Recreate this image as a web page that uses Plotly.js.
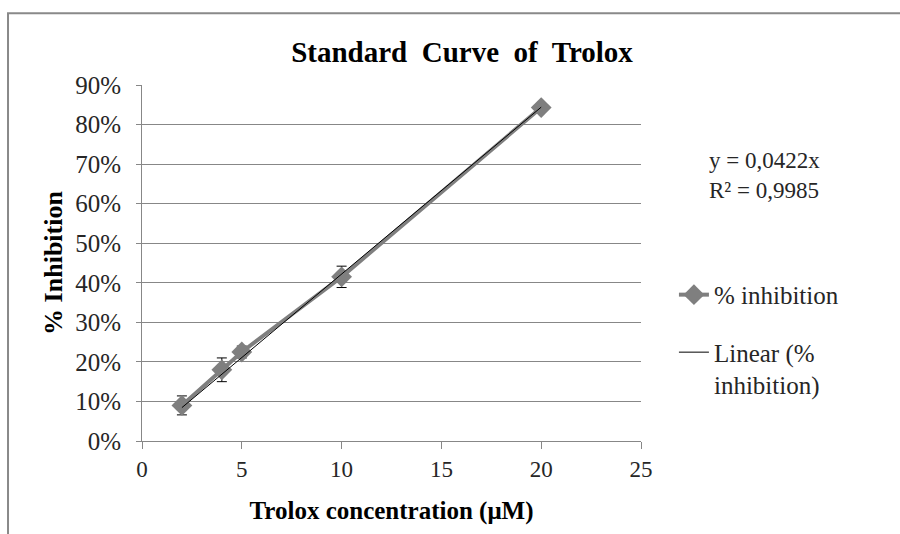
<!DOCTYPE html>
<html>
<head>
<meta charset="utf-8">
<script src="https://cdn.plot.ly/plotly-3.0.1.min.js"></script>
<style>html,body{margin:0;padding:0;background:#fff;}#chart{width:900px;height:534px;}</style>
</head>
<body>
<div id="chart"></div>
<script>
// Data
var concentration = [2, 4, 5, 10, 20];            // Trolox concentration (µM)
var inhibition = [0.090, 0.180, 0.225, 0.415, 0.843]; // % inhibition
var inhibitionErr = [0.024, 0.030, 0.015, 0.027, 0.010];
var trendX = [2, 20];
var trendY = [0.0844, 0.844]; // y = 0.0422x
var yTickVals = [0, 0.1, 0.2, 0.3, 0.4, 0.5, 0.6, 0.7, 0.8, 0.9];
var yTickText = ["0%", "10%", "20%", "30%", "40%", "50%", "60%", "70%", "80%", "90%"];
var xTickVals = [0, 5, 10, 15, 20, 25];

var FONT = "Liberation Serif, serif";
var GRAY = "#878787";

var traces = [
  {
    x: concentration, y: inhibition, type: "scatter", mode: "lines+markers",
    name: "% inhibition", legendgroup: "a",
    line: {color: "#7f7f7f", width: 4},
    marker: {symbol: "diamond", size: 16, color: "#7f7f7f"},
    error_y: {type: "data", array: inhibitionErr, visible: true, color: "#000", thickness: 1, width: 5}
  },
  {
    x: trendX, y: trendY, type: "scatter", mode: "lines",
    name: "Linear (%<br>inhibition)", legendgroup: "b",
    line: {color: "#000", width: 1}
  }
];

// paper coordinate helpers for the frame
var L = -0.2685, T = 1.2012, B = -0.27, R = 1.53;

var layout = {
  width: 900, height: 534,
  margin: {l: 142, r: 259, t: 85, b: 93},
  paper_bgcolor: "#fff", plot_bgcolor: "#fff",
  font: {family: FONT, size: 22, color: "#262626"},
  title: {text: "<b>Standard  Curve  of  Trolox</b>", font: {family: FONT, size: 29, color: "#000"},
          x: 462/900, xref: "container", xanchor: "center", y: 1 - 52/534, yref: "container", yanchor: "middle"},
  xaxis: {
    range: [0, 25], tickvals: xTickVals, ticks: "outside", ticklen: 7, tickcolor: GRAY,
    showline: true, linecolor: GRAY, linewidth: 1, showgrid: false, zeroline: false,
    tickfont: {family: FONT, size: 23, color: "#262626"},
    title: {text: "<b>Trolox concentration (μM)</b>", font: {family: FONT, size: 25, color: "#000"}, standoff: 20}
  },
  yaxis: {
    range: [0, 0.9], tickvals: yTickVals, ticktext: yTickText, ticks: "outside", ticklen: 5, tickcolor: GRAY,
    showline: true, linecolor: GRAY, linewidth: 1, showgrid: true, gridcolor: GRAY, gridwidth: 1, zeroline: false,
    tickfont: {family: FONT, size: 25, color: "#262626"}, ticklabelstandoff: 10,
    title: {text: "<b>% Inhibition</b>", font: {family: FONT, size: 26, color: "#000"}, standoff: 5}
  },
  showlegend: true,
  legend: {x: 1.066, y: 0.475, xanchor: "left", yanchor: "top", traceorder: "grouped", tracegroupgap: 22,
           valign: "top",
           font: {family: FONT, size: 25, color: "#262626", weight: "normal"}, bgcolor: "rgba(0,0,0,0)"},
  annotations: [{
    xref: "paper", yref: "paper", x: 1.2465, y: 0.745, xanchor: "center", yanchor: "middle", align: "left",
    text: "y = 0,0422x<br>R² = 0,9985", showarrow: false, font: {family: FONT, size: 23, color: "#262626"}
  }],
  shapes: [{
    type: "path", xref: "paper", yref: "paper",
    path: "M " + L + " " + B + " L " + L + " " + T + " L " + R + " " + T,
    line: {color: "#898989", width: 2}
  }]
};

Plotly.newPlot("chart", traces, layout, {displayModeBar: false, staticPlot: true});
</script>
</body>
</html>
